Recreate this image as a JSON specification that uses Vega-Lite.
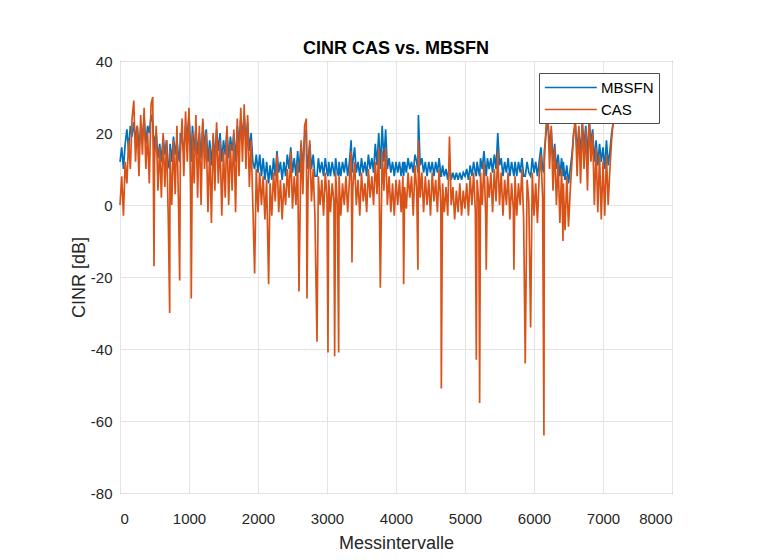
{
"$schema":"https://vega.github.io/schema/vega-lite/v6.json",
"autosize":"none",
"width":552,"height":432,
"padding":{"left":120,"top":61,"right":91,"bottom":67},
"background":"white",
"title":{"text":"CINR CAS vs. MBSFN","fontSize":18,"fontWeight":"bold","font":"Liberation Sans","color":"#000000","offset":-4,"anchor":"middle"},
"config":{"view":{"stroke":"#4d4d4d","strokeWidth":1},"axis":{"labelFont":"Liberation Sans","titleFont":"Liberation Sans","labelColor":"#262626","titleColor":"#262626","labelFontSize":15,"titleFontSize":18,"titleFontWeight":"normal","gridColor":"#e3e3e3","gridWidth":1,"domain":false,"ticks":false}},
"data":{"values":[
{"x":0,"MBSFN":12,"CAS":0},{"x":25,"MBSFN":16,"CAS":8},{"x":50,"MBSFN":10,"CAS":-3},{"x":75,"MBSFN":17,"CAS":12},{"x":100,"MBSFN":21,"CAS":6},{"x":125,"MBSFN":15,"CAS":18},{"x":150,"MBSFN":22,"CAS":10},{"x":175,"MBSFN":19,"CAS":24},{"x":200,"MBSFN":23,"CAS":29},{"x":225,"MBSFN":18,"CAS":12},{"x":250,"MBSFN":22,"CAS":22},{"x":275,"MBSFN":16,"CAS":8},{"x":300,"MBSFN":21,"CAS":25},{"x":325,"MBSFN":19,"CAS":14},{"x":350,"MBSFN":24,"CAS":27},{"x":375,"MBSFN":17,"CAS":10},{"x":400,"MBSFN":22,"CAS":20},{"x":425,"MBSFN":20,"CAS":6},{"x":450,"MBSFN":25,"CAS":28},{"x":475,"MBSFN":23,"CAS":30},{"x":493,"MBSFN":14,"CAS":-17},{"x":500,"MBSFN":18,"CAS":12},{"x":525,"MBSFN":20,"CAS":22},{"x":550,"MBSFN":13,"CAS":4},{"x":575,"MBSFN":17,"CAS":16},{"x":600,"MBSFN":12,"CAS":2},{"x":625,"MBSFN":19,"CAS":20},{"x":650,"MBSFN":14,"CAS":5},{"x":675,"MBSFN":18,"CAS":18},{"x":700,"MBSFN":11,"CAS":-4},{"x":720,"MBSFN":10,"CAS":-30},{"x":725,"MBSFN":17,"CAS":15},{"x":750,"MBSFN":12,"CAS":0},{"x":775,"MBSFN":19,"CAS":18},{"x":800,"MBSFN":14,"CAS":3},{"x":825,"MBSFN":18,"CAS":22},{"x":850,"MBSFN":13,"CAS":-2},{"x":865,"MBSFN":12,"CAS":-21},{"x":875,"MBSFN":20,"CAS":14},{"x":900,"MBSFN":18,"CAS":24},{"x":925,"MBSFN":15,"CAS":8},{"x":950,"MBSFN":22,"CAS":26},{"x":975,"MBSFN":19,"CAS":12},{"x":1000,"MBSFN":25,"CAS":27},{"x":1025,"MBSFN":16,"CAS":4},{"x":1033,"MBSFN":12,"CAS":-26},{"x":1050,"MBSFN":22,"CAS":20},{"x":1075,"MBSFN":15,"CAS":6},{"x":1100,"MBSFN":21,"CAS":25},{"x":1125,"MBSFN":14,"CAS":2},{"x":1150,"MBSFN":20,"CAS":22},{"x":1175,"MBSFN":13,"CAS":0},{"x":1200,"MBSFN":23,"CAS":24},{"x":1225,"MBSFN":16,"CAS":10},{"x":1250,"MBSFN":21,"CAS":20},{"x":1275,"MBSFN":12,"CAS":-2},{"x":1300,"MBSFN":18,"CAS":16},{"x":1325,"MBSFN":11,"CAS":-5},{"x":1350,"MBSFN":19,"CAS":20},{"x":1375,"MBSFN":13,"CAS":4},{"x":1400,"MBSFN":21,"CAS":23},{"x":1425,"MBSFN":15,"CAS":6},{"x":1450,"MBSFN":20,"CAS":18},{"x":1475,"MBSFN":12,"CAS":-3},{"x":1500,"MBSFN":18,"CAS":15},{"x":1525,"MBSFN":14,"CAS":2},{"x":1550,"MBSFN":21,"CAS":22},{"x":1575,"MBSFN":13,"CAS":0},{"x":1600,"MBSFN":19,"CAS":17},{"x":1625,"MBSFN":15,"CAS":4},{"x":1650,"MBSFN":20,"CAS":21},{"x":1675,"MBSFN":12,"CAS":-2},{"x":1700,"MBSFN":22,"CAS":24},{"x":1725,"MBSFN":17,"CAS":8},{"x":1750,"MBSFN":24,"CAS":27},{"x":1775,"MBSFN":19,"CAS":12},{"x":1800,"MBSFN":25,"CAS":28},{"x":1825,"MBSFN":18,"CAS":10},{"x":1850,"MBSFN":23,"CAS":25},{"x":1875,"MBSFN":15,"CAS":5},{"x":1900,"MBSFN":20,"CAS":18},{"x":1925,"MBSFN":12,"CAS":0},{"x":1951,"MBSFN":10,"CAS":-19},{"x":1975,"MBSFN":14,"CAS":10},
{"x":2000,"MBSFN":9,"CAS":-2},{"x":2025,"MBSFN":14,"CAS":9},{"x":2050,"MBSFN":8,"CAS":0},{"x":2075,"MBSFN":13,"CAS":8},{"x":2100,"MBSFN":7,"CAS":-4},{"x":2125,"MBSFN":12,"CAS":7},{"x":2154,"MBSFN":6,"CAS":-22},{"x":2175,"MBSFN":11,"CAS":6},{"x":2200,"MBSFN":7,"CAS":-3},{"x":2225,"MBSFN":13,"CAS":9},{"x":2250,"MBSFN":8,"CAS":1},{"x":2275,"MBSFN":15,"CAS":14},{"x":2300,"MBSFN":9,"CAS":-2},{"x":2325,"MBSFN":12,"CAS":7},{"x":2350,"MBSFN":7,"CAS":-4},{"x":2375,"MBSFN":12,"CAS":6},{"x":2400,"MBSFN":8,"CAS":0},{"x":2425,"MBSFN":14,"CAS":10},{"x":2450,"MBSFN":10,"CAS":2},{"x":2475,"MBSFN":16,"CAS":15},{"x":2500,"MBSFN":9,"CAS":-1},{"x":2525,"MBSFN":13,"CAS":8},{"x":2550,"MBSFN":8,"CAS":0},{"x":2575,"MBSFN":15,"CAS":12},{"x":2594,"MBSFN":9,"CAS":-24},{"x":2625,"MBSFN":17,"CAS":18},{"x":2650,"MBSFN":10,"CAS":3},{"x":2675,"MBSFN":19,"CAS":22},{"x":2700,"MBSFN":21,"CAS":24},{"x":2710,"MBSFN":10,"CAS":-26},{"x":2725,"MBSFN":12,"CAS":5},{"x":2750,"MBSFN":17,"CAS":18},{"x":2775,"MBSFN":10,"CAS":1},{"x":2800,"MBSFN":14,"CAS":10},{"x":2825,"MBSFN":8,"CAS":-3},{"x":2855,"MBSFN":8,"CAS":-38},{"x":2875,"MBSFN":13,"CAS":8},{"x":2900,"MBSFN":9,"CAS":0},{"x":2925,"MBSFN":12,"CAS":7},{"x":2950,"MBSFN":8,"CAS":-3},{"x":2975,"MBSFN":13,"CAS":9},{"x":3000,"MBSFN":9,"CAS":2},{"x":3014,"MBSFN":8,"CAS":-41},{"x":3025,"MBSFN":12,"CAS":7},{"x":3050,"MBSFN":8,"CAS":-2},{"x":3075,"MBSFN":12,"CAS":6},{"x":3100,"MBSFN":9,"CAS":1},{"x":3111,"MBSFN":8,"CAS":-42},{"x":3125,"MBSFN":13,"CAS":9},{"x":3150,"MBSFN":9,"CAS":0},{"x":3169,"MBSFN":8,"CAS":-41},{"x":3175,"MBSFN":12,"CAS":8},{"x":3200,"MBSFN":8,"CAS":-3},{"x":3225,"MBSFN":12,"CAS":6},{"x":3250,"MBSFN":9,"CAS":0},{"x":3275,"MBSFN":13,"CAS":8},{"x":3300,"MBSFN":8,"CAS":-2},{"x":3325,"MBSFN":12,"CAS":7},{"x":3350,"MBSFN":18,"CAS":15},{"x":3362,"MBSFN":9,"CAS":-16},{"x":3375,"MBSFN":12,"CAS":5},{"x":3400,"MBSFN":16,"CAS":12},{"x":3425,"MBSFN":9,"CAS":0},{"x":3450,"MBSFN":12,"CAS":7},{"x":3475,"MBSFN":8,"CAS":-3},{"x":3500,"MBSFN":13,"CAS":9},{"x":3525,"MBSFN":9,"CAS":1},{"x":3550,"MBSFN":12,"CAS":6},{"x":3575,"MBSFN":8,"CAS":-2},{"x":3600,"MBSFN":14,"CAS":10},{"x":3625,"MBSFN":10,"CAS":2},{"x":3650,"MBSFN":13,"CAS":8},{"x":3675,"MBSFN":9,"CAS":0},{"x":3700,"MBSFN":17,"CAS":12},{"x":3725,"MBSFN":11,"CAS":3},{"x":3750,"MBSFN":20,"CAS":16},{"x":3773,"MBSFN":10,"CAS":-23},{"x":3800,"MBSFN":22,"CAS":15},{"x":3825,"MBSFN":12,"CAS":4},{"x":3850,"MBSFN":21,"CAS":16},{"x":3875,"MBSFN":10,"CAS":0},{"x":3900,"MBSFN":13,"CAS":8},{"x":3925,"MBSFN":9,"CAS":-2},{"x":3950,"MBSFN":12,"CAS":6},{"x":3975,"MBSFN":8,"CAS":-3},{"x":4000,"MBSFN":12,"CAS":7},{"x":4025,"MBSFN":9,"CAS":0},{"x":4050,"MBSFN":12,"CAS":7},{"x":4075,"MBSFN":8,"CAS":-2},{"x":4100,"MBSFN":12,"CAS":8},{"x":4111,"MBSFN":8,"CAS":-22},{"x":4125,"MBSFN":12,"CAS":5},{"x":4150,"MBSFN":9,"CAS":-1},{"x":4175,"MBSFN":13,"CAS":9},{"x":4200,"MBSFN":10,"CAS":2},{"x":4225,"MBSFN":12,"CAS":8},{"x":4250,"MBSFN":9,"CAS":-3},{"x":4275,"MBSFN":14,"CAS":11},{"x":4300,"MBSFN":12,"CAS":4},{"x":4318,"MBSFN":9,"CAS":-18},{"x":4325,"MBSFN":25,"CAS":18},{"x":4350,"MBSFN":11,"CAS":2},{"x":4375,"MBSFN":13,"CAS":9},{"x":4400,"MBSFN":9,"CAS":-2},{"x":4425,"MBSFN":12,"CAS":8},{"x":4450,"MBSFN":8,"CAS":0},{"x":4475,"MBSFN":12,"CAS":7},{"x":4500,"MBSFN":9,"CAS":-3},{"x":4525,"MBSFN":12,"CAS":9},{"x":4550,"MBSFN":8,"CAS":1},{"x":4575,"MBSFN":12,"CAS":7},{"x":4600,"MBSFN":9,"CAS":-2},{"x":4625,"MBSFN":13,"CAS":10},{"x":4650,"MBSFN":8,"CAS":0},{"x":4657,"MBSFN":8,"CAS":-51},{"x":4675,"MBSFN":11,"CAS":6},{"x":4700,"MBSFN":8,"CAS":-2},{"x":4725,"MBSFN":10,"CAS":5},{"x":4750,"MBSFN":7,"CAS":-3},{"x":4775,"MBSFN":11,"CAS":19},{"x":4800,"MBSFN":7,"CAS":0},{"x":4825,"MBSFN":9,"CAS":5},{"x":4850,"MBSFN":7,"CAS":-4},{"x":4875,"MBSFN":9,"CAS":4},{"x":4900,"MBSFN":7,"CAS":-2},{"x":4925,"MBSFN":9,"CAS":6},{"x":4950,"MBSFN":7,"CAS":-3},{"x":4975,"MBSFN":9,"CAS":4},{"x":5000,"MBSFN":8,"CAS":-1},{"x":5025,"MBSFN":10,"CAS":6},{"x":5050,"MBSFN":7,"CAS":-3},{"x":5075,"MBSFN":11,"CAS":8},{"x":5100,"MBSFN":8,"CAS":0},{"x":5125,"MBSFN":12,"CAS":9},{"x":5150,"MBSFN":9,"CAS":-2},{"x":5164,"MBSFN":8,"CAS":-43},{"x":5175,"MBSFN":12,"CAS":7},{"x":5200,"MBSFN":9,"CAS":1},{"x":5212,"MBSFN":8,"CAS":-55},{"x":5225,"MBSFN":13,"CAS":9},{"x":5250,"MBSFN":10,"CAS":0},{"x":5275,"MBSFN":15,"CAS":12},{"x":5300,"MBSFN":9,"CAS":-3},{"x":5308,"MBSFN":8,"CAS":-18},{"x":5325,"MBSFN":13,"CAS":8},{"x":5350,"MBSFN":10,"CAS":2},{"x":5375,"MBSFN":13,"CAS":9},{"x":5400,"MBSFN":9,"CAS":-2},{"x":5425,"MBSFN":14,"CAS":10},{"x":5450,"MBSFN":10,"CAS":1},{"x":5475,"MBSFN":20,"CAS":15},{"x":5500,"MBSFN":11,"CAS":0},{"x":5525,"MBSFN":13,"CAS":9},{"x":5550,"MBSFN":8,"CAS":-3},{"x":5575,"MBSFN":12,"CAS":7},{"x":5600,"MBSFN":9,"CAS":0},{"x":5625,"MBSFN":13,"CAS":9},{"x":5650,"MBSFN":8,"CAS":-4},{"x":5675,"MBSFN":12,"CAS":6},{"x":5700,"MBSFN":9,"CAS":-1},{"x":5709,"MBSFN":8,"CAS":-18},{"x":5725,"MBSFN":12,"CAS":8},{"x":5750,"MBSFN":8,"CAS":-3},{"x":5775,"MBSFN":12,"CAS":6},{"x":5800,"MBSFN":9,"CAS":0},{"x":5825,"MBSFN":13,"CAS":10},{"x":5850,"MBSFN":8,"CAS":-4},{"x":5873,"MBSFN":8,"CAS":-44},{"x":5900,"MBSFN":12,"CAS":7},{"x":5925,"MBSFN":9,"CAS":1},{"x":5951,"MBSFN":8,"CAS":-34},{"x":5975,"MBSFN":13,"CAS":9},{"x":6000,"MBSFN":9,"CAS":-3},{"x":6025,"MBSFN":12,"CAS":6},{"x":6050,"MBSFN":8,"CAS":-5},{"x":6075,"MBSFN":12,"CAS":8},
{"x":6100,"MBSFN":16,"CAS":14},{"x":6125,"MBSFN":10,"CAS":2},{"x":6144,"MBSFN":9,"CAS":-64},{"x":6150,"MBSFN":15,"CAS":12},{"x":6175,"MBSFN":20,"CAS":22},{"x":6200,"MBSFN":24,"CAS":26},{"x":6225,"MBSFN":16,"CAS":10},{"x":6250,"MBSFN":21,"CAS":22},{"x":6275,"MBSFN":12,"CAS":4},{"x":6300,"MBSFN":17,"CAS":16},{"x":6325,"MBSFN":10,"CAS":0},{"x":6350,"MBSFN":14,"CAS":12},{"x":6375,"MBSFN":8,"CAS":-5},{"x":6400,"MBSFN":13,"CAS":10},{"x":6420,"MBSFN":8,"CAS":-10},{"x":6425,"MBSFN":12,"CAS":6},{"x":6450,"MBSFN":7,"CAS":-7},{"x":6475,"MBSFN":11,"CAS":8},{"x":6500,"MBSFN":6,"CAS":-6},{"x":6525,"MBSFN":10,"CAS":4},{"x":6550,"MBSFN":14,"CAS":12},{"x":6575,"MBSFN":20,"CAS":20},{"x":6600,"MBSFN":22,"CAS":24},{"x":6625,"MBSFN":15,"CAS":8},{"x":6650,"MBSFN":21,"CAS":22},{"x":6675,"MBSFN":14,"CAS":6},{"x":6700,"MBSFN":23,"CAS":23},{"x":6725,"MBSFN":16,"CAS":10},{"x":6750,"MBSFN":22,"CAS":21},{"x":6775,"MBSFN":13,"CAS":4},{"x":6800,"MBSFN":24,"CAS":24},{"x":6825,"MBSFN":17,"CAS":12},{"x":6850,"MBSFN":21,"CAS":20},{"x":6875,"MBSFN":12,"CAS":0},{"x":6900,"MBSFN":18,"CAS":16},{"x":6925,"MBSFN":11,"CAS":-2},{"x":6950,"MBSFN":17,"CAS":14},{"x":6975,"MBSFN":12,"CAS":-4},{"x":7000,"MBSFN":16,"CAS":12},{"x":7025,"MBSFN":10,"CAS":-3},{"x":7050,"MBSFN":18,"CAS":14},{"x":7075,"MBSFN":11,"CAS":0},{"x":7100,"MBSFN":15,"CAS":10},{"x":7125,"MBSFN":20,"CAS":18},{"x":7150,"MBSFN":23,"CAS":24}
]},
"transform":[{"fold":["MBSFN","CAS"],"as":["series","value"]}],
"mark":{"type":"line","strokeWidth":1.7},
"encoding":{
 "x":{"field":"x","type":"quantitative","scale":{"domain":[0,8000],"nice":false},"axis":{"title":"Messintervalle","values":[0,1000,2000,3000,4000,5000,6000,7000,8000],"labelPadding":18,"titlePadding":8,"labelExpr":"''+datum.value"}},
 "y":{"field":"value","type":"quantitative","scale":{"domain":[-80,40],"nice":false},"axis":{"title":"CINR [dB]","values":[-80,-60,-40,-20,0,20,40],"labelPadding":8,"titlePadding":2,"labelExpr":"''+datum.value"}},
 "color":{"field":"series","type":"nominal","scale":{"domain":["MBSFN","CAS"],"range":["#0072BD","#D95319"]},"legend":{"title":null,"orient":"none","legendX":419,"legendY":12,"symbolType":"M-1,0H5","symbolSize":300,"symbolStrokeWidth":1.5,"labelFont":"Liberation Sans","labelFontSize":15,"labelColor":"#000000","strokeColor":"#4d4d4d","fillColor":"white","padding":5,"rowPadding":4,"labelOffset":38}}
}
}
